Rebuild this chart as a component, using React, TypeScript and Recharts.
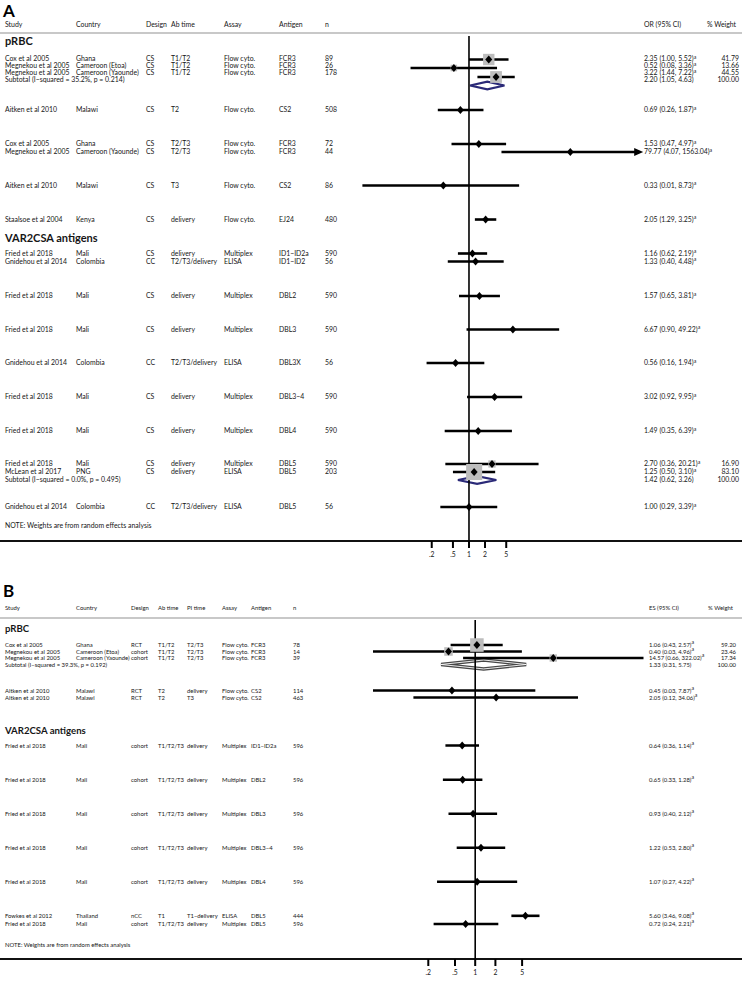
import React from 'react'
import { ComposedChart, Scatter, XAxis, YAxis, ReferenceLine, ReferenceArea, ErrorBar } from 'recharts'

// ---------- Panel A (OR) ----------
const studyA = ['Cox et al 2005', 'Megnekou et al 2005', 'Megnekou et al 2005', 'Subtotal  (I−squared = 35.2%, p = 0.214)', 'Aitken et al 2010', 'Cox et al 2005', 'Megnekou et al 2005', 'Aitken et al 2010', 'Staalsoe et al 2004', 'Fried et al 2018', 'Gnidehou et al 2014', 'Fried et al 2018', 'Fried et al 2018', 'Gnidehou et al 2014', 'Fried et al 2018', 'Fried et al 2018', 'Fried et al 2018', 'McLean et al 2017', 'Subtotal  (I−squared = 0.0%, p = 0.495)', 'Gnidehou et al 2014']
const countryA = ['Ghana', 'Cameroon (Etoa)', 'Cameroon (Yaounde)', '', 'Malawi', 'Ghana', 'Cameroon (Yaounde)', 'Malawi', 'Kenya', 'Mali', 'Colombia', 'Mali', 'Mali', 'Colombia', 'Mali', 'Mali', 'Mali', 'PNG', '', 'Colombia']
const designA = ['CS', 'CS', 'CS', '', 'CS', 'CS', 'CS', 'CS', 'CS', 'CS', 'CC', 'CS', 'CS', 'CC', 'CS', 'CS', 'CS', 'CS', '', 'CC']
const abTimeA = ['T1/T2', 'T1/T2', 'T1/T2', '', 'T2', 'T2/T3', 'T2/T3', 'T3', 'delivery', 'delivery', 'T2/T3/delivery', 'delivery', 'delivery', 'T2/T3/delivery', 'delivery', 'delivery', 'delivery', 'delivery', '', 'T2/T3/delivery']
const assayA = ['Flow cyto.', 'Flow cyto.', 'Flow cyto.', '', 'Flow cyto.', 'Flow cyto.', 'Flow cyto.', 'Flow cyto.', 'Flow cyto.', 'Multiplex', 'ELISA', 'Multiplex', 'Multiplex', 'ELISA', 'Multiplex', 'Multiplex', 'Multiplex', 'ELISA', '', 'ELISA']
const antigenA = ['FCR3', 'FCR3', 'FCR3', '', 'CS2', 'FCR3', 'FCR3', 'CS2', 'EJ24', 'ID1−ID2a', 'ID1−ID2', 'DBL2', 'DBL3', 'DBL3X', 'DBL3−4', 'DBL4', 'DBL5', 'DBL5', '', 'DBL5']
const nA = ['89', '26', '178', '', '508', '72', '44', '86', '480', '590', '56', '590', '590', '56', '590', '590', '590', '203', '', '56']
const orA = [2.35, 0.52, 3.22, 2.20, 0.69, 1.53, 79.77, 0.33, 2.05, 1.16, 1.33, 1.57, 6.67, 0.56, 3.02, 1.49, 2.70, 1.25, 1.42, 1.00]
const loA = [1.00, 0.08, 1.44, 1.05, 0.26, 0.47, 4.07, 0.01, 1.29, 0.62, 0.40, 0.65, 0.90, 0.16, 0.92, 0.35, 0.36, 0.50, 0.62, 0.29]
const hiA = [5.52, 3.36, 7.22, 4.63, 1.87, 4.97, 1563.04, 8.73, 3.25, 2.19, 4.48, 3.81, 49.22, 1.94, 9.95, 6.39, 20.21, 3.10, 3.26, 3.39]
const weightA = [41.79, 13.66, 44.55, 100.0, null, null, null, null, null, null, null, null, null, null, null, null, 16.90, 83.10, 100.0, null]
// row slot of each line in the plot (text), and of its mark
const rowA = [3.38, 4.41, 5.44, 6.4, 10.89, 15.89, 17.07, 22.0, 27.0, 32.0, 33.18, 38.25, 43.18, 48.11, 53.11, 58.11, 62.97, 64.15, 65.32, 69.3]
const markRowA = [3.46, 4.71, 6.03, 7.28, 10.89, 15.89, 17.07, 22.0, 27.0, 32.0, 33.18, 38.25, 43.18, 48.11, 53.11, 58.11, 62.97, 64.15, 65.32, 69.3]
const headingsA = ['pRBC', 'VAR2CSA antigens']
const headingRowA = [0.74, 29.72]
const noteRowA = 72.1

// ---------- Panel B (ES) ----------
const studyB = ['Cox et al 2005', 'Megnekou et al 2005', 'Megnekou et al 2005', 'Subtotal  (I−squared = 39.3%, p = 0.192)', 'Aitken et al 2010', 'Aitken et al 2010', 'Fried et al 2018', 'Fried et al 2018', 'Fried et al 2018', 'Fried et al 2018', 'Fried et al 2018', 'Fowkes et al 2012', 'Fried et al 2018']
const countryB = ['Ghana', 'Cameroon (Etoa)', 'Cameroon (Yaounde)', '', 'Malawi', 'Malawi', 'Mali', 'Mali', 'Mali', 'Mali', 'Mali', 'Thailand', 'Mali']
const designB = ['RCT', 'cohort', 'cohort', '', 'RCT', 'RCT', 'cohort', 'cohort', 'cohort', 'cohort', 'cohort', 'nCC', 'cohort']
const abTimeB = ['T1/T2', 'T1/T2', 'T1/T2', '', 'T2', 'T2', 'T1/T2/T3', 'T1/T2/T3', 'T1/T2/T3', 'T1/T2/T3', 'T1/T2/T3', 'T1', 'T1/T2/T3']
const piTimeB = ['T2/T3', 'T2/T3', 'T2/T3', '', 'delivery', 'T3', 'delivery', 'delivery', 'delivery', 'delivery', 'delivery', 'T1−delivery', 'delivery']
const assayB = ['Flow cyto.', 'Flow cyto.', 'Flow cyto.', '', 'Flow cyto.', 'Flow cyto.', 'Multiplex', 'Multiplex', 'Multiplex', 'Multiplex', 'Multiplex', 'ELISA', 'Multiplex']
const antigenB = ['FCR3', 'FCR3', 'FCR3', '', 'CS2', 'CS2', 'ID1−ID2a', 'DBL2', 'DBL3', 'DBL3−4', 'DBL4', 'DBL5', 'DBL5']
const nB = ['78', '14', '39', '', '114', '463', '596', '596', '596', '596', '596', '444', '596']
const esB = [1.06, 0.40, 14.57, 1.33, 0.45, 2.05, 0.64, 0.65, 0.93, 1.22, 1.07, 5.60, 0.72]
const loB = [0.43, 0.03, 0.66, 0.31, 0.03, 0.12, 0.36, 0.33, 0.40, 0.53, 0.27, 3.46, 0.24]
const hiB = [2.57, 4.96, 322.02, 5.75, 7.87, 34.06, 1.14, 1.28, 2.12, 2.80, 4.22, 9.08, 2.21]
const weightB = [59.20, 23.46, 17.34, 100.0, null, null, null, null, null, null, null, null, null]
const rowB = [3.68, 4.63, 5.59, 6.54, 10.37, 11.4, 18.46, 23.5, 28.5, 33.5, 38.5, 43.5, 44.7]
const markRowB = rowB
const headingsB = ['pRBC', 'VAR2CSA antigens']
const headingRowB = [1.32, 16.3]
const noteRowB = 47.8

const ticks = [0.2, 0.5, 1, 2, 5]

const FONT = 'Lato, "Open Sans", sans-serif'
const INK = '#161616'

type Row = {
  cells: string[]
  est: number
  lo: number
  hi: number
  weight: number | null
  row: number
  markRow: number
  sub: boolean
}

const rowsA: Row[] = studyA.map((s, i) => ({
  cells: [s, countryA[i], designA[i], abTimeA[i], assayA[i], antigenA[i], nA[i]],
  est: orA[i], lo: loA[i], hi: hiA[i], weight: weightA[i],
  row: rowA[i], markRow: markRowA[i], sub: s.startsWith('Subtotal'),
}))

const rowsB: Row[] = studyB.map((s, i) => ({
  cells: [s, countryB[i], designB[i], abTimeB[i], piTimeB[i], assayB[i], antigenB[i], nB[i]],
  est: esB[i], lo: loB[i], hi: hiB[i], weight: weightB[i],
  row: rowB[i], markRow: markRowB[i], sub: s.startsWith('Subtotal'),
}))

const fmt = (v: number) => v.toFixed(2)
const tickFmt = (v: number) => (v < 1 ? String(v).replace('0.', '.') : String(v))

const WeightBox = (p: any) => {
  const s = 1.76 * Math.sqrt(p.payload.w)
  return <rect x={p.cx - s / 2} y={p.cy - s / 2} width={s} height={s} fill="#bdbdbd" />
}
const PointMark = (p: any) => (
  <polygon points={`${p.cx - 3.5},${p.cy} ${p.cx},${p.cy - 4} ${p.cx + 3.5},${p.cy} ${p.cx},${p.cy + 4}`} fill="#000" />
)
const ArrowHead = (p: any) => (
  <polygon points={`${p.cx + 4},${p.cy} ${p.cx - 5},${p.cy - 4} ${p.cx - 5},${p.cy + 4}`} fill="#000" />
)

type PanelCfg = {
  rows: Row[]
  headers: string[]
  cols: number[]
  ciHeader: string
  ciX: number
  wHeaderX: number
  wRight: number
  headings: string[]
  headingRows: number[]
  noteRow: number
  label: string
  labelY: number
  headerY: number
  ruleY: number
  plotTop: number
  axisY: number
  left: number
  right: number
  xDomain: [number, number]
  yMax: number
  subStroke: string
  subHalf: number
  double: boolean
  fs: number
  headFs: number
}

function PanelText({ cfg }: { cfg: PanelCfg }) {
  const y = (r: number) => cfg.plotTop + (r * (cfg.axisY - cfg.plotTop)) / cfg.yMax
  const fs = cfg.fs
  return (
    <g fontFamily={FONT} fill={INK}>
      <text x={3} y={cfg.labelY} fontSize={17} fontWeight={700} fontFamily={FONT} fill="#000">{cfg.label}</text>
      {cfg.headers.map((h, i) => (
        <text key={h} x={cfg.cols[i]} y={cfg.headerY} dy=".35em" fontSize={fs}>{h}</text>
      ))}
      <text x={cfg.ciX} y={cfg.headerY} dy=".35em" fontSize={fs}>{cfg.ciHeader}</text>
      <text x={cfg.wHeaderX} y={cfg.headerY} dy=".35em" fontSize={fs}>% Weight</text>
      <line x1={0} x2={742} y1={cfg.ruleY} y2={cfg.ruleY} stroke="#c8c8c8" strokeWidth={2} />
      {cfg.headings.map((h, i) => (
        <text key={h} x={5} y={y(cfg.headingRows[i])} dy=".35em" fontSize={cfg.headFs} fontWeight={700}>{h}</text>
      ))}
      {cfg.rows.map((r, i) => (
        <g key={i}>
          {r.cells.map((c, j) => c ? (
            <text key={j} x={cfg.cols[j]} y={y(r.row)} dy=".35em" fontSize={fs}>{c}</text>
          ) : null)}
          <text x={cfg.ciX} y={y(r.row)} dy=".35em" fontSize={fs}>
            {`${fmt(r.est)} (${fmt(r.lo)}, ${fmt(r.hi)})`}
            {!r.sub && <tspan dy={-2.8} fontSize={5.2}>a</tspan>}
          </text>
          {r.weight != null && (
            <text x={cfg.wRight} y={y(r.row)} dy=".35em" fontSize={fs} textAnchor="end">{fmt(r.weight)}</text>
          )}
        </g>
      ))}
      <text x={5} y={y(cfg.noteRow)} dy=".35em" fontSize={fs}>NOTE: Weights are from random effects analysis</text>
      <line x1={0} x2={742} y1={cfg.axisY} y2={cfg.axisY} stroke="#111" strokeWidth={2} />
    </g>
  )
}

function PanelChart({ cfg }: { cfg: PanelCfg }) {
  const studies = cfg.rows.filter((r) => !r.sub)
  const boxes = cfg.rows.filter((r) => !r.sub && r.weight != null).map((r) => ({ x: r.est, y: r.markRow, w: r.weight }))
  const points = studies.map((r) => ({ x: r.est, y: r.markRow, err: [r.est - r.lo, r.hi - r.est] }))
  const arrows = studies.filter((r) => r.hi > 1000).map((r) => ({ x: r.hi, y: r.markRow }))
  const subs = cfg.rows.filter((r) => r.sub)
  const height = cfg.axisY + 26
  return (
    <div style={{ position: 'absolute', left: 0, top: 0 }}>
      <ComposedChart
        width={742}
        height={height}
        margin={{ top: cfg.plotTop, right: 742 - cfg.right, bottom: 0, left: cfg.left }}
      >
        <XAxis
          type="number"
          dataKey="x"
          scale="log"
          domain={cfg.xDomain}
          ticks={ticks}
          interval={0}
          tickFormatter={tickFmt}
          axisLine={false}
          tickLine={{ stroke: '#000', strokeWidth: 2 }}
          tickSize={7}
          tickMargin={4}
          height={26}
          tick={{ fontSize: 6.8, fill: INK, fontFamily: FONT }}
        />
        <YAxis type="number" dataKey="y" domain={[0, cfg.yMax]} reversed hide allowDataOverflow />
        <ReferenceLine x={1} stroke="#000" strokeWidth={1.6} ifOverflow="visible" />
        <Scatter data={boxes} shape={WeightBox} isAnimationActive={false} />
        {subs.map((s, i) => (
          <ReferenceArea
            key={i}
            x1={s.lo}
            x2={s.hi}
            y1={s.markRow - cfg.subHalf}
            y2={s.markRow + cfg.subHalf}
            ifOverflow="visible"
            shape={(p: any) => {
              const pts = `${p.x},${p.y + p.height / 2} ${p.x + p.width / 2},${p.y} ${p.x + p.width},${p.y + p.height / 2} ${p.x + p.width / 2},${p.y + p.height}`
              return (
                <g>
                  <polygon points={pts} fill="#fff" stroke={cfg.subStroke} strokeWidth={cfg.double ? 3.4 : 2.2} strokeLinejoin="miter" />
                  {cfg.double && <polygon points={pts} fill="none" stroke="#fff" strokeWidth={0.9} />}
                </g>
              )
            }}
          />
        ))}
        <Scatter data={points} shape={PointMark} isAnimationActive={false}>
          <ErrorBar dataKey="err" direction="x" width={0} stroke="#000" strokeWidth={2.6} />
        </Scatter>
        <Scatter data={arrows} shape={ArrowHead} isAnimationActive={false} />
      </ComposedChart>
    </div>
  )
}

const cfgA: PanelCfg = {
  rows: rowsA,
  headers: ['Study', 'Country', 'Design', 'Ab time', 'Assay', 'Antigen', 'n'],
  cols: [5, 76, 146, 171, 224, 279, 325],
  ciHeader: 'OR (95% CI)',
  ciX: 644,
  wHeaderX: 707,
  wRight: 739,
  headings: headingsA,
  headingRows: headingRowA,
  noteRow: noteRowA,
  label: 'A',
  labelY: 16.8,
  headerY: 25,
  ruleY: 33,
  plotTop: 36,
  axisY: 541,
  left: 362.4,
  right: 639.2,
  xDomain: [0.01, 1563.04],
  yMax: 74.3,
  subStroke: '#2b2a78',
  subHalf: 0.56,
  double: false,
  fs: 6.9,
  headFs: 11,
}

const cfgB: PanelCfg = {
  rows: rowsB,
  headers: ['Study', 'Country', 'Design', 'Ab time', 'PI time', 'Assay', 'Antigen', 'n'],
  cols: [5, 76, 131, 158, 187, 222, 251, 293],
  ciHeader: 'ES (95% CI)',
  ciX: 649,
  wHeaderX: 708,
  wRight: 736,
  headings: headingsB,
  headingRows: headingRowB,
  noteRow: noteRowB,
  label: 'B',
  labelY: 597,
  headerY: 608,
  ruleY: 618,
  plotTop: 620,
  axisY: 959,
  left: 373,
  right: 643.5,
  xDomain: [0.03, 322.02],
  yMax: 49.85,
  subStroke: '#474747',
  subHalf: 0.66,
  double: true,
  fs: 5.9,
  headFs: 9.6,
}

export default function App() {
  return (
    <div style={{ position: 'relative', width: 742, height: 992, background: '#fff', overflow: 'hidden' }}>
      <style>{'body{margin:0}'}</style>
      <svg width={742} height={992} style={{ position: 'absolute', left: 0, top: 0 }}>
        <PanelText cfg={cfgA} />
        <PanelText cfg={cfgB} />
      </svg>
      <PanelChart cfg={cfgA} />
      <PanelChart cfg={cfgB} />
    </div>
  )
}
